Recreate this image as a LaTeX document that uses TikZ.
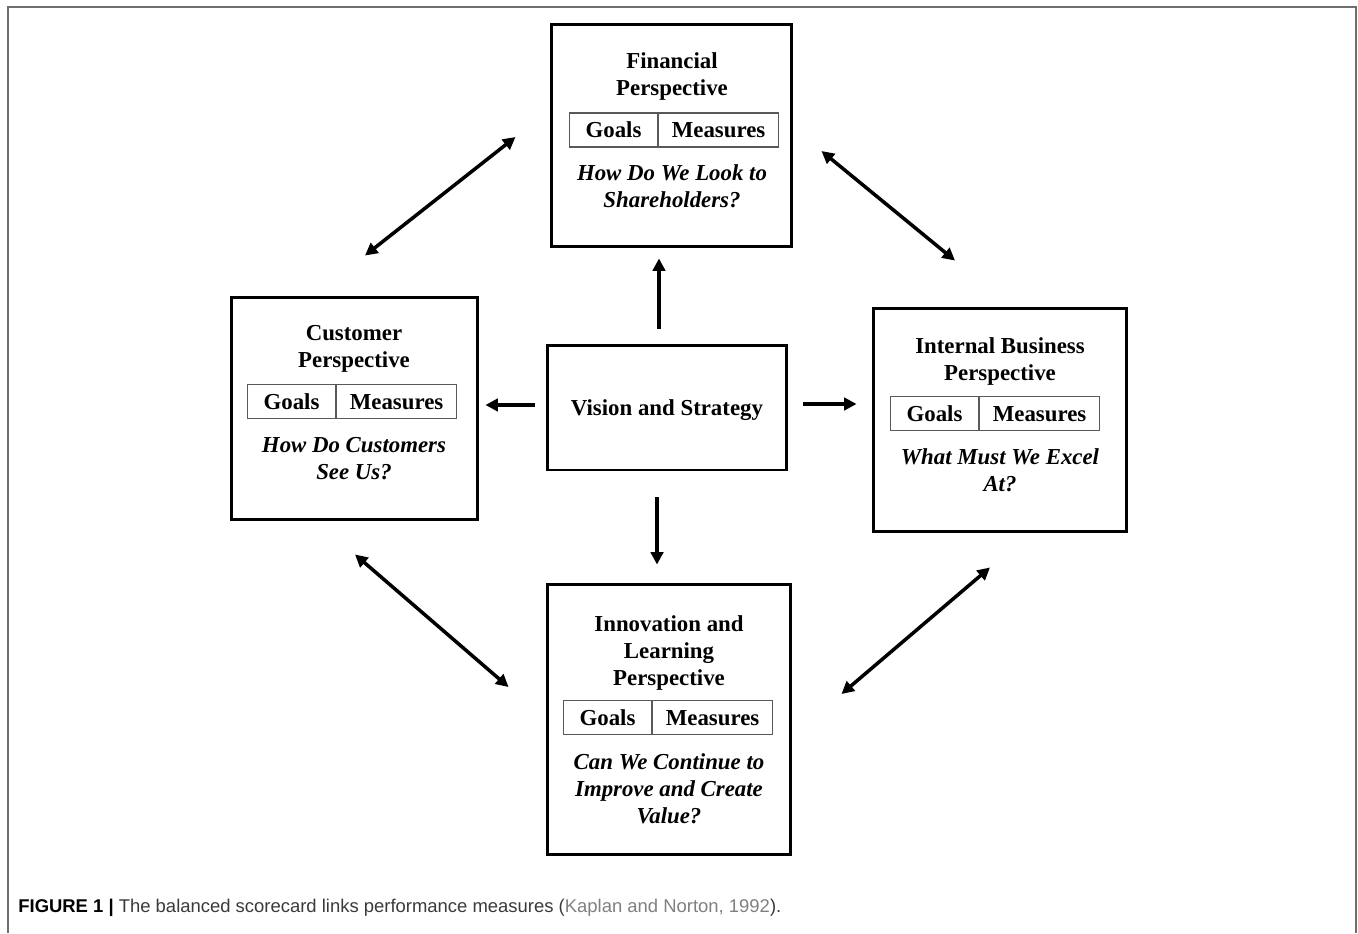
\documentclass[tikz,border=0pt]{standalone}
\usepackage{fontspec}
\setmainfont{Liberation Serif}
\setsansfont{Liberation Sans}
\usetikzlibrary{arrows.meta,positioning}
\definecolor{framegray}{HTML}{6E6E6E}
\definecolor{capgray}{HTML}{3A3A3A}
\definecolor{linkgray}{HTML}{808080}
\tikzset{
  persp/.style={draw,rectangle,line width=1.7pt,minimum width=4.9cm,minimum height=4.46cm,inner sep=0pt},
  headtext/.style={align=center,anchor=north,inner sep=0pt,font=\fontsize{13}{15.4}\selectfont\bfseries},
  asktext/.style={align=center,anchor=north,inner sep=0pt,font=\fontsize{13}{15.4}\selectfont\bfseries\itshape},
  cell/.style={draw=black!65,line width=0.6pt,minimum height=0.68cm,inner sep=0pt,text height=9pt,text depth=0pt,font=\fontsize{13}{15.4}\selectfont\bfseries},
  goals/.style={cell,minimum width=1.76cm,anchor=west},
  measures/.style={cell,minimum width=2.4cm,right=0pt of #1},
  link/.style={line width=2pt}
}

\begin{document}
\begin{tikzpicture}[x=0.02cm,y=-0.02cm,>={Triangle[length=0.25cm,width=0.25cm]}]
  \useasboundingbox (0,0) rectangle (1358,933);
  \draw[framegray,line width=1.2pt] (8,933) -- (8,7) -- (1356,7) -- (1356,933);

  \node[persp,minimum width=4.82cm] (fin) at (671.5,135.5) {};
  \node[headtext] (fint) at (672,52) {Financial\\Perspective};
  \node[goals] (fing) at (569,130) {Goals};
  \node[measures=fing] (finm) {Measures};
  \node[asktext] (finq) at (672,164) {How Do We Look to\\Shareholders?};

  \node[persp,minimum width=4.94cm] (cust) at (354.5,408.5) {};
  \node[headtext] (custt) at (354,325) {Customer\\Perspective};
  \node[goals] (custg) at (247,401.5) {Goals};
  \node[measures=custg] (custm) {Measures};
  \node[asktext] (custq) at (354,437) {How Do Customers\\See Us?};

  \node[persp,minimum width=4.8cm,minimum height=2.5cm,text height=9pt,text depth=0pt,font=\fontsize{13}{15.4}\selectfont\bfseries] (vis) at (667,407.5) {Vision and Strategy};

  \node[persp,minimum width=5.08cm,minimum height=4.48cm] (intl) at (1000,420) {};
  \node[headtext] (intlt) at (1000,337) {Internal Business\\Perspective};
  \node[goals] (intlg) at (890,413.5) {Goals};
  \node[measures=intlg] (intlm) {Measures};
  \node[asktext] (intlq) at (1000,448) {What Must We Excel\\At?};

  \node[persp,minimum width=4.88cm,minimum height=5.42cm] (innov) at (669,719.5) {};
  \node[headtext] (innovt) at (669,615) {Innovation and\\Learning\\Perspective};
  \node[goals] (innovg) at (563,717.5) {Goals};
  \node[measures=innovg] (innovm) {Measures};
  \node[asktext] (innovq) at (669,753) {Can We Continue to\\Improve and Create\\Value?};

  \draw[link,->] ([shift={(-8,-15)}]vis.north) -- ([shift={(-12.5,10)}]fin.south);
  \draw[link,->] ([shift={(-10,26)}]vis.south) -- ([shift={(-12,-18)}]innov.north);
  \draw[link,->] ([shift={(-11,-2.5)}]vis.west) -- ([shift={(6,-3.5)}]cust.east);
  \draw[link,->] ([shift={(15,-3.5)}]vis.east) -- ([shift={(-15,-16)}]intl.west);
  \draw[link,<->] ([shift={(10.5,-40)}]cust.north) -- ([shift={(-34,1.5)}]fin.west);
  \draw[link,<->] ([shift={(28,15.5)}]fin.east) -- ([shift={(-45,-46)}]intl.north);
  \draw[link,<->] ([shift={(0.5,33)}]cust.south) -- ([shift={(-37,-32.5)}]innov.west);
  \draw[link,<->] ([shift={(49,-25.5)}]innov.east) -- ([shift={(-10,34)}]intl.south);

  \node[anchor=base west,inner sep=0pt,font=\sffamily\fontsize{10.5}{12}\selectfont] (cap) at (18,912)
    {\textbf{FIGURE 1 |} \textcolor{capgray}{The balanced scorecard links performance measures (}\textcolor{linkgray}{Kaplan and Norton, 1992}\textcolor{capgray}{).}};
\end{tikzpicture}
\end{document}
